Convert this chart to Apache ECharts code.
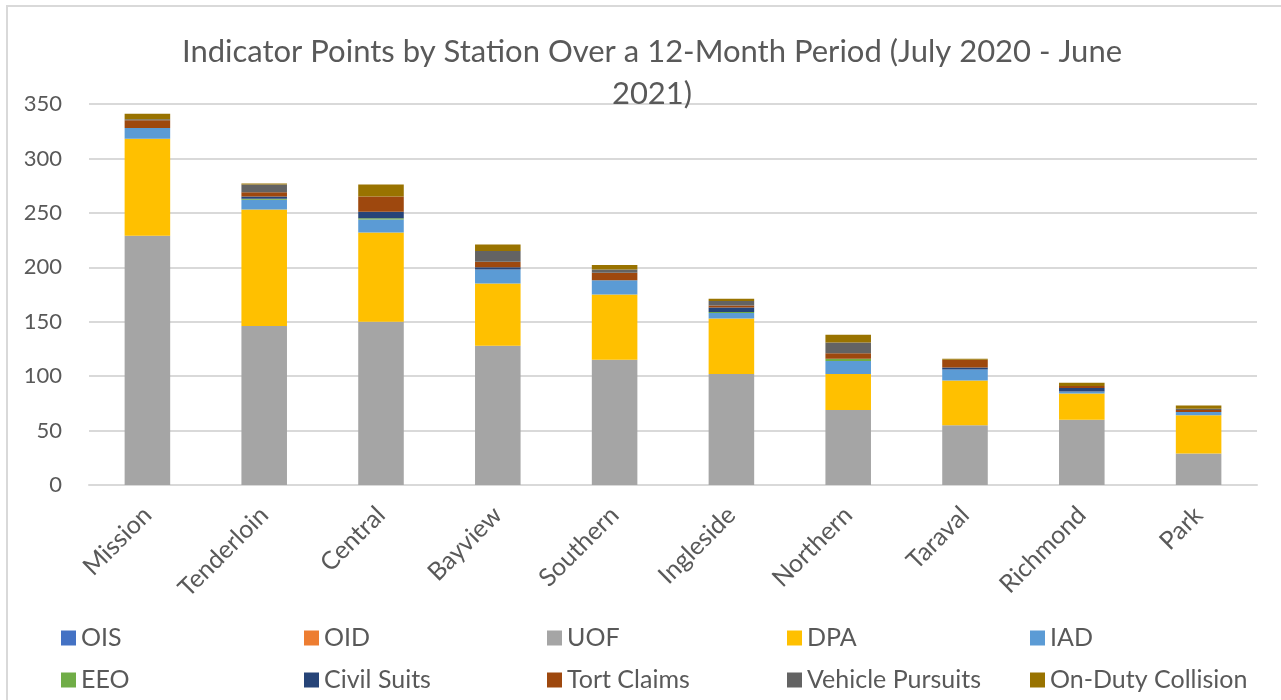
<!DOCTYPE html>
<html>
<head>
<meta charset="utf-8">
<script src="https://cdn.jsdelivr.net/npm/echarts@6/dist/echarts.min.js"></script>
<style>
  html, body { margin: 0; padding: 0; background: #fff; }
  #main { width: 1281px; height: 700px; }
</style>
</head>
<body>
<div id="main"></div>
<script>
  // stations, ordered as in the chart
  const stations = ['Mission', 'Tenderloin', 'Central', 'Bayview', 'Southern', 'Ingleside', 'Northern', 'Taraval', 'Richmond', 'Park'];

  // indicator points per station
  const ois = [0, 0, 0, 0, 0, 0, 0, 0, 0, 0];
  const oid = [0, 0, 0, 0, 0, 0, 0, 0, 0, 0];
  const uof = [229, 146, 150, 128, 115, 102, 69, 55, 60, 29];
  const dpa = [89, 107, 82, 57, 60, 51, 33, 41, 24, 35];
  const iad = [10, 9, 12, 13, 13, 5, 12, 10, 2, 3];
  const eeo = [0, 1, 1, 0, 0, 1, 2, 0, 0, 0];
  const civilSuits = [0, 2, 6, 2, 0, 4, 0, 2, 3, 0];
  const tortClaims = [7, 4, 14, 5, 7, 2, 5, 7, 2, 2];
  const vehiclePursuits = [1, 7, 0, 10, 3, 4, 10, 0, 0, 1];
  const onDutyCollision = [5, 1, 11, 6, 4, 2, 7, 1, 3, 3];

  const yTicks = [0, 50, 100, 150, 200, 250, 300, 350];

  const seriesDefs = [
    { name: 'OIS', data: ois, color: '#4472C4' },
    { name: 'OID', data: oid, color: '#ED7D31' },
    { name: 'UOF', data: uof, color: '#A5A5A5' },
    { name: 'DPA', data: dpa, color: '#FFC000' },
    { name: 'IAD', data: iad, color: '#5B9BD5' },
    { name: 'EEO', data: eeo, color: '#70AD47' },
    { name: 'Civil Suits', data: civilSuits, color: '#264478' },
    { name: 'Tort Claims', data: tortClaims, color: '#9E480E' },
    { name: 'Vehicle Pursuits', data: vehiclePursuits, color: '#636363' },
    { name: 'On-Duty Collision', data: onDutyCollision, color: '#997300' }
  ];

  const font = 'Lato, "Open Sans", sans-serif';
  const textColor = '#595959';

  // legend laid out as 5 columns x 2 rows, like the Excel original
  const legendCols = [61, 304, 547, 787, 1030];
  const legends = legendCols.map(function (x, i) {
    return {
      orient: 'vertical',
      left: x,
      top: 625,
      padding: 0,
      itemWidth: 15,
      itemHeight: 15,
      itemGap: 16,
      icon: 'rect',
      selectedMode: false,
      textStyle: { fontFamily: font, fontSize: 25, color: textColor, lineHeight: 26 },
      data: [seriesDefs[i].name, seriesDefs[i + 5].name]
    };
  });

  const chart = echarts.init(document.getElementById('main'));

  chart.setOption({
    backgroundColor: '#fff',
    animation: false,
    title: {
      text: 'Indicator Points by Station Over a 12-Month Period (July 2020 - June\n2021)',
      left: 647,
      top: 26,
      textAlign: 'center',
      textStyle: { fontFamily: font, fontSize: 31, fontWeight: 'normal', color: textColor, lineHeight: 42 }
    },
    legend: legends,
    graphic: [{
      type: 'rect',
      shape: { x: 7, y: 6, width: 1320, height: 760 },
      style: { fill: 'none', stroke: '#D9D9D9', lineWidth: 2 },
      silent: true
    }],
    grid: { left: 89, right: 24, top: 104, bottom: 215, containLabel: false },
    xAxis: {
      type: 'category',
      data: stations,
      axisLine: { lineStyle: { color: '#D9D9D9', width: 2 } },
      axisTick: { show: false },
      axisLabel: { rotate: 45, margin: 26, fontFamily: font, fontSize: 25, color: textColor, interval: 0 }
    },
    yAxis: {
      type: 'value',
      min: yTicks[0],
      max: yTicks[yTicks.length - 1],
      interval: 50,
      axisLine: { show: false },
      axisTick: { show: false },
      axisLabel: { margin: 27, fontFamily: font, fontSize: 22, color: textColor },
      splitLine: { lineStyle: { color: '#D9D9D9', width: 2 } }
    },
    series: seriesDefs.map(function (s) {
      return {
        name: s.name,
        type: 'bar',
        stack: 'total',
        barWidth: '39%',
        data: s.data,
        itemStyle: { color: s.color }
      };
    })
  });
</script>
</body>
</html>
